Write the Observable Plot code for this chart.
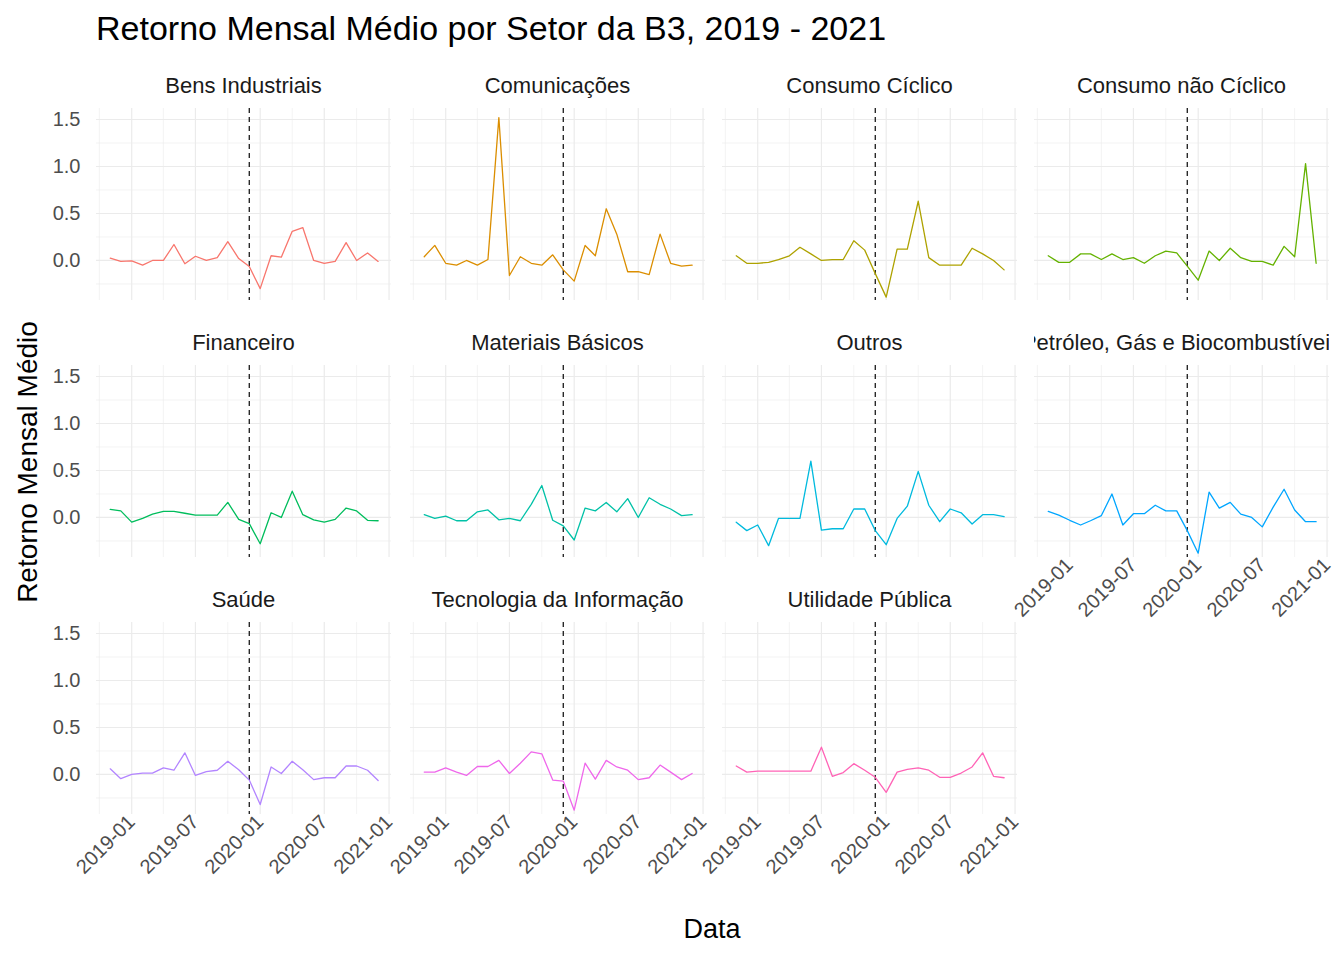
<!DOCTYPE html>
<html>
<head>
<meta charset="utf-8">
<script src="https://cdn.jsdelivr.net/npm/d3@7"></script>
<script src="https://cdn.jsdelivr.net/npm/@observablehq/plot@0.6"></script>
<style>
  body { margin: 0; background: #fff; font-family: "Liberation Sans", Arial, sans-serif; }
  #chart { position: relative; width: 1344px; height: 960px; }
  .abs { position: absolute; }
  .strip { position: absolute; height: 28px; overflow: hidden; display: flex; justify-content: center; white-space: nowrap; font-size: 22px; color: #1a1a1a; }
</style>
</head>
<body>
<div id="chart"></div>
<script>
// setores e cores (paleta padrão do ggplot)
const setores = ["Bens Industriais", "Comunicações", "Consumo Cíclico", "Consumo não Cíclico",
  "Financeiro", "Materiais Básicos", "Outros", "Petróleo, Gás e Biocombustíveis",
  "Saúde", "Tecnologia da Informação", "Utilidade Pública"]
const cores = ["#F8766D", "#DB8E00", "#AEA200", "#64B200", "#00BD5C", "#00C1A7",
  "#00BADE", "#00A6FF", "#B385FF", "#EF67EB", "#FF63B6"]

// meses: 2018-11 a 2020-12
const meses = d3.utcMonth.range(new Date(Date.UTC(2018, 10, 1)), new Date(Date.UTC(2021, 0, 1)))

// retorno mensal médio por setor
const bens = [0.025,-0.01,-0.005,-0.05,0,0,0.17,-0.035,0.045,0,0.03,0.2,0.02,-0.065,-0.3,0.05,0.035,0.31,0.35,0.0,-0.03,-0.01,0.19,0,0.08,-0.01]
const comunicacoes = [0.04,0.16,-0.03,-0.05,0,-0.05,0.01,1.52,-0.16,0.04,-0.03,-0.05,0.06,-0.1,-0.22,0.16,0.05,0.55,0.28,-0.12,-0.12,-0.15,0.28,-0.03,-0.06,-0.05]
const consumoCiclico = [0.05,-0.03,-0.03,-0.02,0.01,0.05,0.14,0.07,0,0.01,0.01,0.21,0.11,-0.14,-0.39,0.12,0.12,0.63,0.03,-0.05,-0.05,-0.05,0.13,0.07,0,-0.1]
const consumoNaoCiclico = [0.05,-0.02,-0.02,0.07,0.07,0.01,0.07,0.01,0.03,-0.03,0.05,0.1,0.08,-0.06,-0.21,0.1,0,0.13,0.03,-0.01,-0.01,-0.05,0.15,0.04,1.03,-0.03]
const financeiro = [0.085,0.07,-0.05,-0.01,0.035,0.065,0.065,0.045,0.025,0.025,0.025,0.16,-0.02,-0.065,-0.28,0.05,0,0.28,0.03,-0.025,-0.05,-0.02,0.1,0.07,-0.03,-0.035]
const materiais = [0.03,-0.01,0.015,-0.035,-0.035,0.06,0.08,-0.025,-0.01,-0.035,0.14,0.34,-0.03,-0.09,-0.24,0.1,0.07,0.16,0.06,0.2,0,0.21,0.14,0.09,0.02,0.03]
const outros = [-0.05,-0.14,-0.08,-0.3,-0.01,-0.01,-0.01,0.6,-0.135,-0.12,-0.12,0.09,0.09,-0.14,-0.29,-0.01,0.12,0.49,0.13,-0.045,0.09,0.05,-0.07,0.03,0.03,0.01]
const petroleo = [0.065,0.025,-0.03,-0.08,-0.035,0.02,0.25,-0.08,0.04,0.04,0.13,0.07,0.07,-0.14,-0.38,0.27,0.1,0.16,0.035,0,-0.1,0.11,0.3,0.08,-0.045,-0.045]
const saude = [0.06,-0.045,0,0.015,0.015,0.07,0.045,0.23,-0.01,0.03,0.045,0.14,0.05,-0.06,-0.32,0.08,0.01,0.14,0.05,-0.055,-0.035,-0.035,0.09,0.09,0.045,-0.065]
const tecnologia = [0.025,0.025,0.07,0.025,-0.01,0.085,0.085,0.15,0.01,0.12,0.24,0.22,-0.06,-0.07,-0.38,0.12,-0.05,0.15,0.08,0.045,-0.055,-0.035,0.1,0.025,-0.055,0.01]
const utilidade = [0.09,0.025,0.035,0.035,0.035,0.035,0.035,0.035,0.29,-0.02,0.02,0.115,0.045,-0.03,-0.19,0.025,0.055,0.07,0.045,-0.03,-0.03,0.015,0.08,0.23,-0.02,-0.035]
const series = [bens, comunicacoes, consumoCiclico, consumoNaoCiclico, financeiro, materiais,
  outros, petroleo, saude, tecnologia, utilidade]

const yTicks = [0, 0.5, 1, 1.5]
const yMinor = [-0.25, 0.25, 0.75, 1.25]
const xTicks = ["2019-01", "2019-07", "2020-01", "2020-07", "2021-01"].map(s => new Date(s + "-01T00:00Z"))
const xMinor = ["2018-10", "2019-04", "2019-10", "2020-04", "2020-10"].map(s => new Date(s + "-01T00:00Z"))
const marco = new Date("2019-12-01T00:00Z")

const panelLeft = [96, 410, 722, 1034]
const panelTop = [108, 365, 622]
const pw = 295, ph = 192
const chart = d3.select("#chart")

series.forEach((vals, k) => {
  const col = k % 4, row = Math.floor(k / 4)
  const data = meses.map((d, i) => ({ data: d, valor: vals[i] }))
  const showX = row === 2 || (row === 1 && col === 3)
  const ml = col === 0 ? 60 : 0
  const mb = showX ? 80 : 0
  const p = Plot.plot({
    width: pw + ml, height: ph + mb,
    marginLeft: ml, marginRight: 0, marginTop: 0, marginBottom: mb,
    style: { fontSize: "20px", fontFamily: "Liberation Sans, Arial, sans-serif", color: "#4d4d4d", overflow: "visible" },
    x: { type: "utc", domain: [new Date("2018-09-23T00:00Z"), new Date("2021-01-08T00:00Z")], axis: null },
    y: { domain: [-0.426, 1.617], axis: null },
    marks: [
      Plot.ruleY(yMinor, { stroke: "#ebebeb", strokeWidth: 0.6 }),
      Plot.ruleX(xMinor, { stroke: "#ebebeb", strokeWidth: 0.6 }),
      Plot.ruleY(yTicks, { stroke: "#ebebeb", strokeWidth: 1.2 }),
      Plot.ruleX(xTicks, { stroke: "#ebebeb", strokeWidth: 1.2 }),
      col === 0 ? Plot.axisY(yTicks, { tickSize: 0, tickPadding: 16, tickFormat: d3.format(".1f"), label: null, fill: "#4d4d4d" }) : null,
      showX ? Plot.axisX(xTicks, { tickSize: 0, tickPadding: 4, tickRotate: -45, tickFormat: d3.utcFormat("%Y-%m"), label: null, fill: "#4d4d4d" }) : null,
      Plot.ruleX([marco], { stroke: "#1a1a1a", strokeWidth: 1.3, strokeDasharray: "5,4" }),
      Plot.line(data, { x: "data", y: "valor", stroke: cores[k], strokeWidth: 1.3 })
    ]
  })
  chart.append("div").attr("class", "abs")
    .style("left", (panelLeft[col] - ml) + "px").style("top", panelTop[row] + "px")
    .append(() => p)
  chart.append("div").attr("class", "strip")
    .style("left", panelLeft[col] + "px").style("width", pw + "px")
    .style("top", (panelTop[row] - 35) + "px")
    .append("span").text(setores[k])
})

chart.append("div").attr("class", "abs")
  .style("left", "96px").style("top", "9px").style("font-size", "34px").style("color", "#000")
  .text("Retorno Mensal Médio por Setor da B3, 2019 - 2021")
chart.append("div").attr("class", "abs")
  .style("left", "0px").style("top", "914px").style("width", "1424px").style("text-align", "center")
  .style("font-size", "27px").text("Data")
chart.append("div").attr("class", "abs")
  .style("left", "28px").style("top", "462px")
  .style("transform", "translate(-50%,-50%) rotate(-90deg)").style("white-space", "nowrap")
  .style("font-size", "28px").text("Retorno Mensal Médio")
</script>
</body>
</html>
